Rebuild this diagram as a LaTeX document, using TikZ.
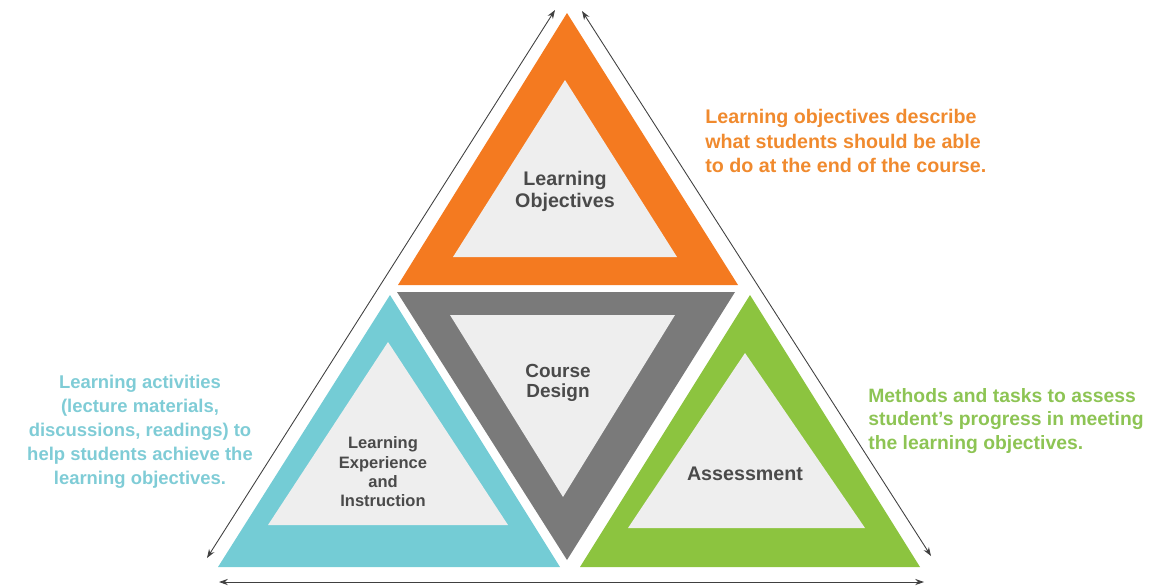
\documentclass[tikz,border=0pt]{standalone}
\usepackage{fontspec}
\setmainfont{Liberation Sans}
\usetikzlibrary{arrows.meta}

\definecolor{objorange}{HTML}{F47A20}
\definecolor{expcyan}{HTML}{74CCD5}
\definecolor{assgreen}{HTML}{8CC43F}
\definecolor{designgray}{HTML}{7A7A7A}
\definecolor{innerfill}{HTML}{EEEEEE}
\definecolor{labelgray}{HTML}{4A4A4A}
\definecolor{objtext}{HTML}{F08A2E}
\definecolor{exptext}{HTML}{7FCCD6}
\definecolor{asstext}{HTML}{8DC454}

\tikzset{
  inlabel/.style={font=\bfseries\fontsize{11.2}{12.6}\selectfont, text=labelgray, align=center},
  sidetext/.style={font=\bfseries\fontsize{11.2}{13.9}\selectfont, inner sep=0pt},
  dimline/.style={draw=black!75, line width=0.5pt, {Stealth[length=5pt,width=3.5pt]}-{Stealth[length=5pt,width=3.5pt]}}
}

\begin{document}
\begin{tikzpicture}[x=0.02cm,y=-0.02cm]
    \useasboundingbox (0,0) rectangle (1162,586);

    % Learning objectives (top)
    \fill[objorange] (567,13) -- (738,285) -- (398,285) -- cycle;
    \fill[innerfill] (565,80) -- (677,257) -- (453,257) -- cycle;

    % Course design (middle, inverted)
    \fill[designgray] (397,292) -- (735,292) -- (567,560) -- cycle;
    \fill[innerfill] (450,315) -- (675,315) -- (563,497) -- cycle;

    % Learning experience (bottom left)
    \fill[expcyan] (390,295) -- (560,567) -- (218,567) -- cycle;
    \fill[innerfill] (388,342) -- (508,525) -- (268,525) -- cycle;

    % Assessment (bottom right)
    \fill[assgreen] (750,295) -- (920,567) -- (580,567) -- cycle;
    \fill[innerfill] (745,353) -- (865,528) -- (628,528) -- cycle;

    % Labels inside the triangles
    \node[inlabel] (obj) at (565,191) {Learning\\Objectives};
    \node[inlabel, font=\bfseries\fontsize{10.8}{11.6}\selectfont] (design) at (558,383) {Course\\Design};
    \node[inlabel, font=\bfseries\fontsize{9.4}{11}\selectfont] (exp) at (383,472) {Learning\\Experience\\and\\Instruction};
    \node[inlabel] (assess) at (745,474) {Assessment};

    % Side texts
    \node[sidetext, text=objtext, anchor=west, align=left] (objnote) at (705,141)
      {Learning objectives describe\\what students should be able\\to do at the end of the course.};
    \node[sidetext, text=exptext, align=center, font=\bfseries\fontsize{10.5}{13.6}\selectfont] (expnote) at (140,432)
      {Learning activities\\(lecture materials,\\discussions, readings) to\\help students achieve the\\learning objectives.};
    \node[sidetext, text=asstext, anchor=west, align=left, font=\bfseries\fontsize{11}{13.4}\selectfont] (assnote) at (868,421)
      {Methods and tasks to assess\\student's progress in meeting\\the learning objectives.};

    % Dimension arrows along the sides
    \coordinate (lefttop) at (555,10);
    \coordinate (leftbot) at (207,558);
    \coordinate (righttop) at (582,11);
    \coordinate (rightbot) at (931,556);
    \coordinate (botleft) at (219,582);
    \coordinate (botright) at (924,582);
    \draw[dimline] (lefttop) -- (leftbot);
    \draw[dimline] (righttop) -- (rightbot);
    \draw[dimline] (botleft) -- (botright);
\end{tikzpicture}
\end{document}
